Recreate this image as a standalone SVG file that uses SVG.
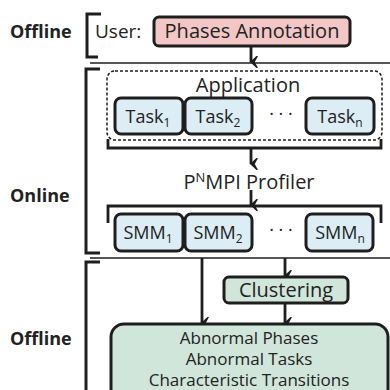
<svg xmlns="http://www.w3.org/2000/svg" width="390" height="390" viewBox="0 0 390 390">
  <defs>
    <style>
      text { font-family: "Open Sans", "Liberation Sans", sans-serif; fill: #222; }
      .lbl { font-weight: bold; font-size: 18px; }
      .t { font-size: 20px; text-anchor: middle; }
      .s { font-size: 18px; text-anchor: middle; }
      .r { font-size: 17px; text-anchor: middle; }
      .box { stroke: #1e1e1e; stroke-width: 3; }
      .pink { fill: #f3c7c6; }
      .blue { fill: #dcedf5; }
      .green { fill: #d1e6da; }
      .br { fill: none; stroke: #1e1e1e; stroke-width: 3; }
      .sep { fill: none; stroke: #1e1e1e; stroke-width: 1.5; }
      .ln { fill: none; stroke: #1e1e1e; stroke-width: 2.8; }
      .dash { fill: none; stroke: #1e1e1e; stroke-width: 1.5; stroke-dasharray: 3 2; }
    </style>
    <marker id="ah" markerWidth="12" markerHeight="10" refX="6" refY="9" orient="auto" markerUnits="userSpaceOnUse" viewBox="0 0 12 10">
      <path d="M0.5,3 L6,9 L11.5,3 L6,6 Z" fill="#1e1e1e" stroke="#1e1e1e" stroke-width="1.5" stroke-linejoin="round"/>
    </marker>
  </defs>

  <!-- phase labels and brackets -->
  <g id="phase-labels">
    <text class="lbl" x="10" y="38">Offline</text>
    <text class="lbl" x="10" y="202">Online</text>
    <text class="lbl" x="10" y="345">Offline</text>
    <path class="br" d="M101,14 H87 V57 H98"/>
    <path class="br" d="M100,69 H86 V253 H100"/>
    <path class="br" d="M100,262 H86 V392"/>
    <path class="sep" d="M90,63 H390"/>
    <path class="sep" d="M90,258 H390"/>
  </g>

  <!-- connectors -->
  <g id="connectors">
    <path class="ln" d="M251,46 V62" marker-end="url(#ah)"/>
    <path class="ln" d="M108,139 V148 H381 V139"/>
    <path class="ln" d="M251,148 V164" marker-end="url(#ah)"/>
    <path class="ln" d="M251,190 V205" marker-end="url(#ah)"/>
    <path class="ln" d="M108,223 V206 H381 V223"/>
    <path class="ln" d="M285,258 V276" marker-end="url(#ah)"/>
    <path class="ln" d="M202,258 V323" marker-end="url(#ah)"/>
    <path class="ln" d="M285,303 V323" marker-end="url(#ah)"/>
  </g>

  <g id="user">
    <text class="t" x="95" y="38" style="text-anchor:start;font-size:19px">User:</text>
  </g>

  <g id="phases-annotation">
    <rect class="box pink" x="154" y="17" width="196" height="29" rx="5"/>
    <text class="t" x="252" y="38">Phases Annotation</text>
  </g>

  <g id="application">
    <rect class="dash" x="107" y="71" width="275" height="69" rx="8"/>
    <text class="t" x="248" y="92">Application</text>
  </g>

  <g id="task1">
    <rect class="box blue" x="115" y="98" width="68" height="36" rx="6"/>
    <text class="s" x="148" y="123">Task<tspan font-size="12" dy="4">1</tspan></text>
  </g>
  <g id="task2">
    <rect class="box blue" x="185" y="98" width="67" height="36" rx="6"/>
    <text class="s" x="218" y="123">Task<tspan font-size="12" dy="4">2</tspan></text>
  </g>
  <g id="task-dots">
    <text class="s" x="281" y="120">· · ·</text>
  </g>
  <g id="taskn">
    <rect class="box blue" x="306" y="98" width="68" height="36" rx="6"/>
    <text class="s" x="340" y="123">Task<tspan font-size="12" dy="4">n</tspan></text>
  </g>

  <g id="profiler">
    <text class="t" x="249" y="189">P<tspan font-size="13" dy="-7">N</tspan><tspan dy="7">MPI Profiler</tspan></text>
  </g>

  <g id="smm1">
    <rect class="box blue" x="115" y="214" width="68" height="37" rx="6"/>
    <text class="s" x="148" y="239">SMM<tspan font-size="12" dy="4">1</tspan></text>
  </g>
  <g id="smm2">
    <rect class="box blue" x="185" y="214" width="67" height="37" rx="6"/>
    <text class="s" x="218" y="239">SMM<tspan font-size="12" dy="4">2</tspan></text>
  </g>
  <g id="smm-dots">
    <text class="s" x="281" y="236">· · ·</text>
  </g>
  <g id="smmn">
    <rect class="box blue" x="306" y="214" width="67" height="37" rx="6"/>
    <text class="s" x="340" y="239">SMM<tspan font-size="12" dy="4">n</tspan></text>
  </g>

  <g id="clustering">
    <rect class="box green" x="224" y="277" width="124" height="26" rx="5"/>
    <text class="t" x="286" y="297">Clustering</text>
  </g>

  <g id="results">
    <rect class="box green" x="111" y="324" width="277" height="80" rx="13"/>
    <text class="r" x="249" y="344">Abnormal Phases</text>
    <text class="r" x="249" y="365">Abnormal Tasks</text>
    <text class="r" x="249" y="386">Characteristic Transitions</text>
  </g>
</svg>
